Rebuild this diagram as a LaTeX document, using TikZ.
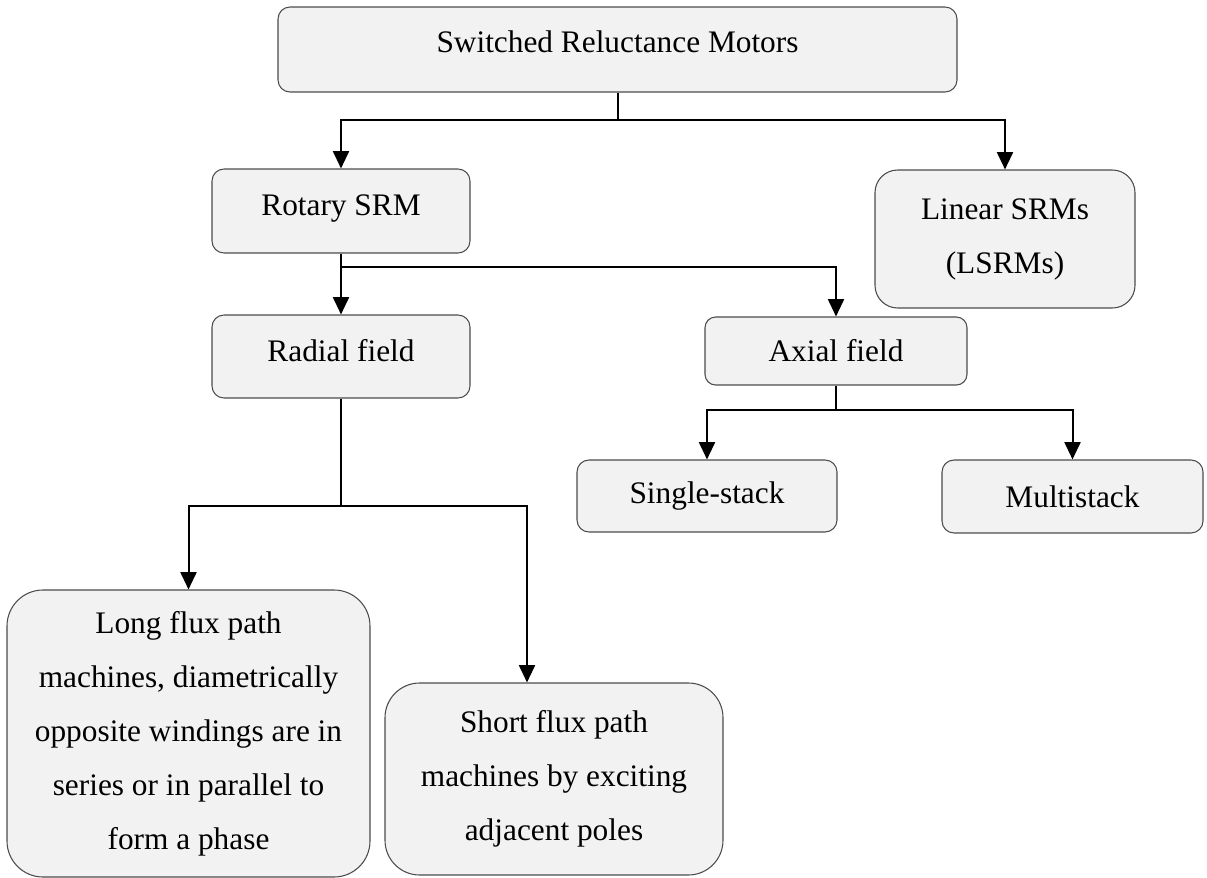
\documentclass[tikz,border=0pt]{standalone}
\usepackage{fontspec}
\setmainfont{Liberation Serif}
\usetikzlibrary{arrows.meta}
\tikzset{
  box/.style={draw=black!70, line width=0.8pt, fill=black!5, rounded corners=9pt,
    align=center, inner sep=0pt, font=\fontsize{23.5}{40.5}\selectfont},
  conn/.style={line width=1.5pt, draw=black},
  arr/.style={conn, -{Triangle[width=12pt,length=13pt]}}
}
\begin{document}
\begin{tikzpicture}[x=0.75pt,y=-0.75pt]
\useasboundingbox (0,0) rectangle (1207,878);
% nodes
\node[box, text height=16pt, text depth=12pt, minimum width=509.25pt, minimum height=63.75pt] (top) at (617.5,49.5) {Switched Reluctance Motors};
\node[box, text height=16pt, text depth=9pt, minimum width=193.5pt, minimum height=63pt] (rot) at (341,211) {Rotary SRM};
\node[box, rounded corners=17pt, minimum width=195pt, minimum height=103.5pt] (lin) at (1005,239) {Linear SRMs\\(LSRMs)};
\node[box, text height=16pt, text depth=8pt, minimum width=193.5pt, minimum height=62.25pt] (rad) at (341,356.5) {Radial field};
\node[box, rounded corners=8pt, minimum width=196.5pt, minimum height=51pt] (axi) at (836,351) {Axial field};
\node[box, minimum width=195pt, minimum height=54pt] (sin) at (707,496) {Single-stack};
\node[box, minimum width=195.75pt, minimum height=54.75pt] (mul) at (1072.5,496.5) {Multistack};
\node[box, rounded corners=27pt, minimum width=272.25pt, minimum height=215.25pt] (lon) at (188.5,733.5)
  {Long flux path\\machines, diametrically\\opposite windings are in\\series or in parallel to\\form a phase};
\node[box, rounded corners=26pt, minimum width=253.5pt, minimum height=144pt] (sho) at (554,779)
  {Short flux path\\machines by exciting\\adjacent poles};
% junctions
\coordinate (j1) at (617.5,120);
\coordinate (j2) at (341,267);
\coordinate (j3) at (836,410);
\coordinate (j4) at (341,506);
% connectors
\draw[conn] (top.south) -- (j1);
\draw[arr] (j1) -| (rot.north);
\draw[arr] (j1) -| (lin.north);
\draw[conn] (rot.south) -- (j2);
\draw[arr] (j2) -| (rad.north);
\draw[arr] (j2) -| (axi.north);
\draw[conn] (axi.south) -- (j3);
\draw[arr] (j3) -| (sin.north);
\draw[arr] (j3) -| (mul.north);
\draw[conn] (rad.south) -- (j4);
\draw[arr] (j4) -| (lon.north);
\draw[arr] (j4) -| ([xshift=-20.25pt]sho.north);
\end{tikzpicture}
\end{document}
